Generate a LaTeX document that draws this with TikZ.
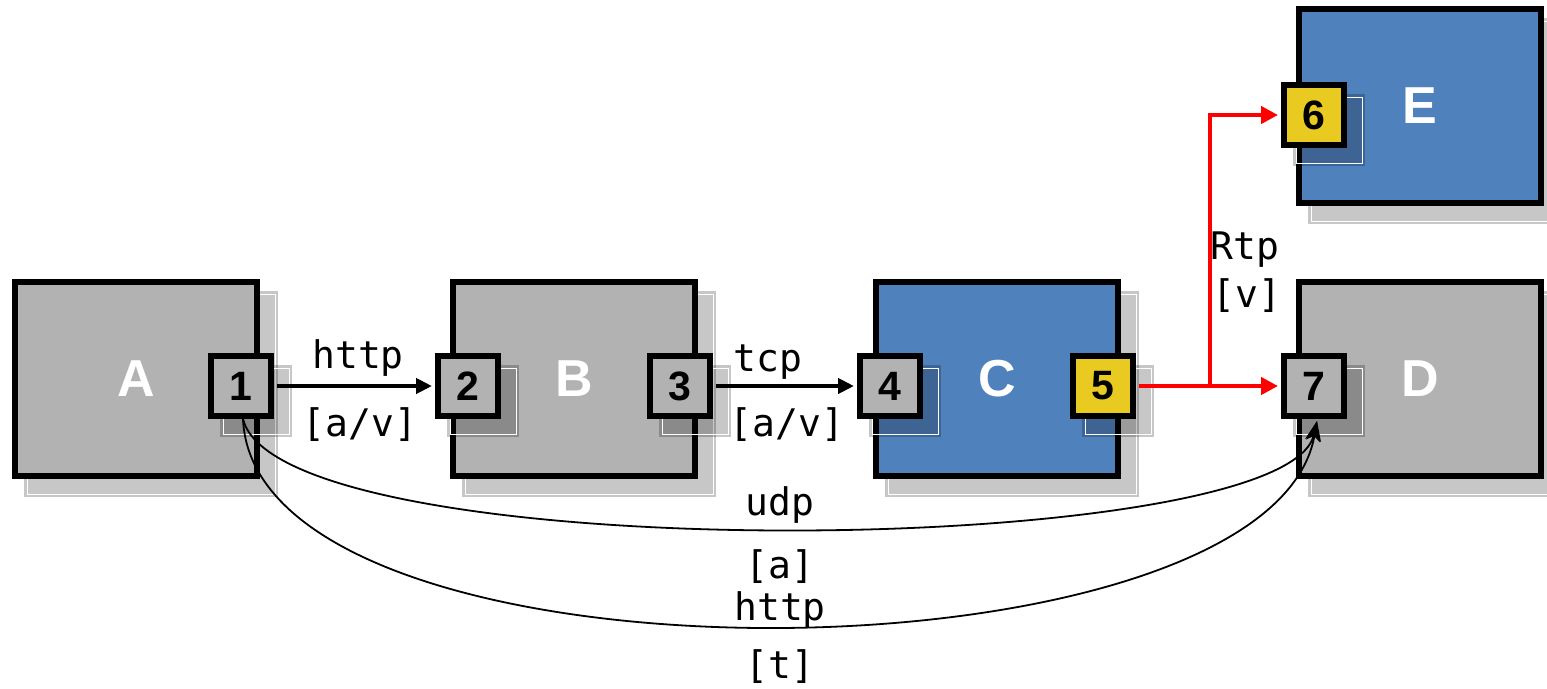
\documentclass[tikz,border=0pt]{standalone}
\usepackage{fontspec}
\setmainfont{Liberation Sans}
\newfontfamily\monof{DejaVu Sans Mono}
\usetikzlibrary{arrows.meta}
\definecolor{boxgray}{RGB}{178,178,178}
\definecolor{boxblue}{RGB}{79,129,189}
\definecolor{portyellow}{RGB}{232,202,32}
\definecolor{linkred}{RGB}{255,0,0}
\tikzset{
  bigbox/.style={draw=black, line width=6pt, minimum width=242pt, minimum height=194pt, inner sep=0pt,
     font=\fontsize{52}{52}\selectfont\bfseries, text=white},
  port/.style={draw=black, line width=6pt, minimum width=60pt, minimum height=60pt, inner sep=0pt,
     font=\fontsize{41}{41}\selectfont\bfseries, text=black},
  shadowfill/.style={fill=black, fill opacity=0.22},
  lbl/.style={font=\monof\fontsize{38}{38}\selectfont, inner sep=0pt, text=black},
  blackarrow/.style={line width=4pt, -{Triangle[length=16pt,width=15pt]}},
  redarrow/.style={draw=linkred, line width=4.5pt, -{Triangle[length=17pt,width=17pt]}},
  redline/.style={draw=linkred, line width=4.5pt},
  thincurve/.style={line width=1.8pt, -{Stealth[length=20pt,width=15pt,inset=5pt]}}
}
\newcommand\dropshade[1]{%
  \fill[shadowfill] ([shift={(12,12)}]#1.north west) rectangle ([shift={(18,18)}]#1.south east);
  \draw[white, line width=1pt] ([shift={(15,15)}]#1.north west) rectangle ([shift={(15,15)}]#1.south east);}
\begin{document}
\begin{tikzpicture}[x=1pt,y=-1pt]
\useasboundingbox (0,0) rectangle (1547,688);
% big boxes (positions only, drawn after shadows)
\path (136,379) node[bigbox, draw=none] (A) {}
      (574,379) node[bigbox, draw=none] (B) {}
      (997,379) node[bigbox, draw=none] (C) {}
      (1420,379) node[bigbox, draw=none] (D) {}
      (1420,106) node[bigbox, draw=none] (E) {};
\dropshade{A}\dropshade{B}\dropshade{C}\dropshade{D}\dropshade{E}
\node[bigbox, fill=boxgray] at (A) {A};
\node[bigbox, fill=boxgray] at (B) {B};
\node[bigbox, fill=boxblue] at (C) {C};
\node[bigbox, fill=boxgray] at (D) {D};
\node[bigbox, fill=boxblue] at (E) {E};
% ports
\path (241,386) node[port, draw=none] (p1) {}
      (468,386) node[port, draw=none] (p2) {}
      (680,386) node[port, draw=none] (p3) {}
      (890,386) node[port, draw=none] (p4) {}
      (1103,386) node[port, draw=none] (p5) {}
      (1314,115) node[port, draw=none] (p6) {}
      (1314,386) node[port, draw=none] (p7) {};
\dropshade{p1}\dropshade{p2}\dropshade{p3}\dropshade{p4}\dropshade{p5}\dropshade{p6}\dropshade{p7}
\node[port, fill=boxgray] at (p1) {1};
\node[port, fill=boxgray] at (p2) {2};
\node[port, fill=boxgray] at (p3) {3};
\node[port, fill=boxgray] at (p4) {4};
\node[port, fill=portyellow] at (p5) {5};
\node[port, fill=portyellow] at (p6) {6};
\node[port, fill=boxgray] at (p7) {7};
% black links
\draw[blackarrow] ([xshift=3pt]p1.east) -- ([xshift=-3pt]p2.west);
\draw[blackarrow] ([xshift=3pt]p3.east) -- ([xshift=-3pt]p4.west);
\node[lbl] (l1a) at (358,358) {http};
\node[lbl] (l1b) at (360,425) {[a/v]};
\node[lbl] (l2a) at (768,362) {tcp};
\node[lbl] (l2b) at (787,425) {[a/v]};
% red links
\coordinate (split) at (1210,386);
\coordinate (bend) at (1210,115);
\draw[redline] ([xshift=3pt]p5.east) -- (split);
\draw[redarrow] (split) -- ([xshift=-3pt]p7.west);
\draw[redarrow] (split) -- (bend) -- ([xshift=-3pt]p6.west);
\node[lbl] (l3a) at (1245,250) {Rtp};
\node[lbl] (l3b) at (1247,296) {[v]};
% curves
\draw[thincurve] ([xshift=2pt]p1.south) .. controls (280,570) and (1285,560) .. ([xshift=3pt,yshift=-2pt]p7.south);
\draw[thincurve] ([xshift=2pt]p1.south) .. controls (255,700) and (1270,690) .. ([xshift=3pt,yshift=-2pt]p7.south);
\node[lbl] (l4a) at (780,505) {udp};
\node[lbl] (l4b) at (780,567) {[a]};
\node[lbl] (l5a) at (780,610) {http};
\node[lbl] (l5b) at (780,667) {[t]};
\end{tikzpicture}
\end{document}
